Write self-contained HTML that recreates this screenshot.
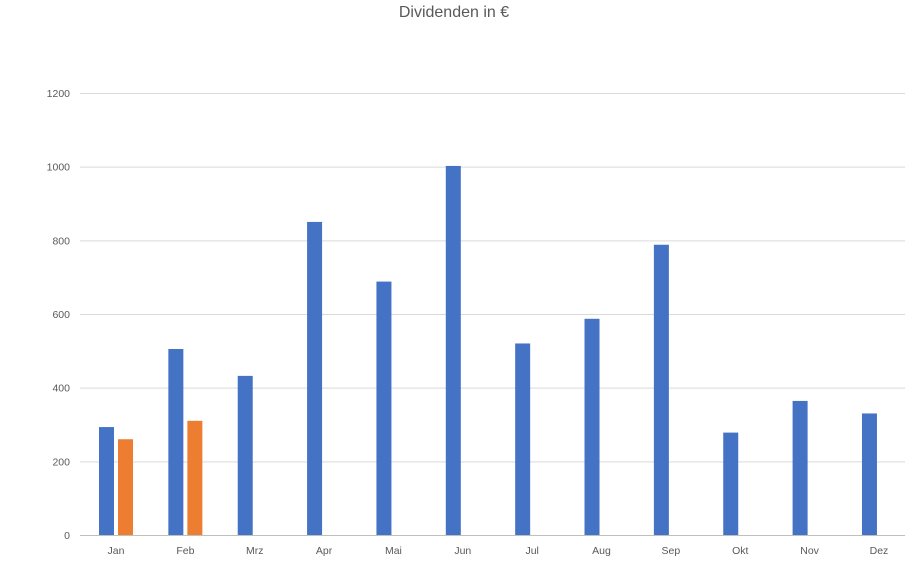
<!DOCTYPE html>
<html><head><meta charset="utf-8"><style>
body{margin:0;background:#fff;font-family:"Liberation Sans",sans-serif;}
</style></head><body>
<svg id="chart" width="909" height="569" xmlns="http://www.w3.org/2000/svg">
<text x="454" y="17" text-anchor="middle" font-size="16" fill="#595959" font-family="Liberation Sans, sans-serif">Dividenden in  €</text>
<g id="grid"></g><g id="bars"></g><g id="labels"></g>
</svg>
<script>
const categories=["Jan","Feb","Mrz","Apr","Mai","Jun","Jul","Aug","Sep","Okt","Nov","Dez"];
const series1=[293,505,432,850,688,1002,520,587,788,278,364,330];
const series2=[260,310,null,null,null,null,null,null,null,null,null,null];
const yTicks=[0,200,400,600,800,1000,1200];
const ns="http://www.w3.org/2000/svg";
const L=80,R=905,Y0=535,Y1=93,YMAX=1200;
const y=v=>Y0-(v/YMAX)*(Y0-Y1);
const step=69.36;
const xc=i=>116+step*i;
const grid=document.getElementById('grid'),bars=document.getElementById('bars'),labels=document.getElementById('labels');
function mk(tag,attrs,parent){const e=document.createElementNS(ns,tag);for(const k in attrs)e.setAttribute(k,attrs[k]);parent.appendChild(e);return e;}
yTicks.forEach(t=>{
 const l=mk('line',{x1:L,x2:R,y1:y(t)+0.5,y2:y(t)+0.5,stroke:t===0?'#bfbfbf':'#d9d9d9','stroke-width':1},grid);
 
 
 const tx=mk('text',{x:70,y:y(t)+4,'text-anchor':'end','font-size':10.5,fill:'#595959'},labels);
 tx.textContent=t;
 
 
});
const bw=15,gap=4;
categories.forEach((c,i)=>{
 const cx=xc(i);
 const b=mk('rect',{x:cx-gap/2-bw,y:y(series1[i]),width:bw,height:Y0-y(series1[i]),fill:'#4472c4'},bars);
 
 
 if(series2[i]!=null){
  const o=mk('rect',{x:cx+gap/2,y:y(series2[i]),width:bw,height:Y0-y(series2[i]),fill:'#ed7d31'},bars);
  
  
 }
 const t=mk('text',{x:cx,y:554,'text-anchor':'middle','font-size':10.5,fill:'#595959'},labels);
 t.textContent=c;
 
 
});
</script>
</body></html>
